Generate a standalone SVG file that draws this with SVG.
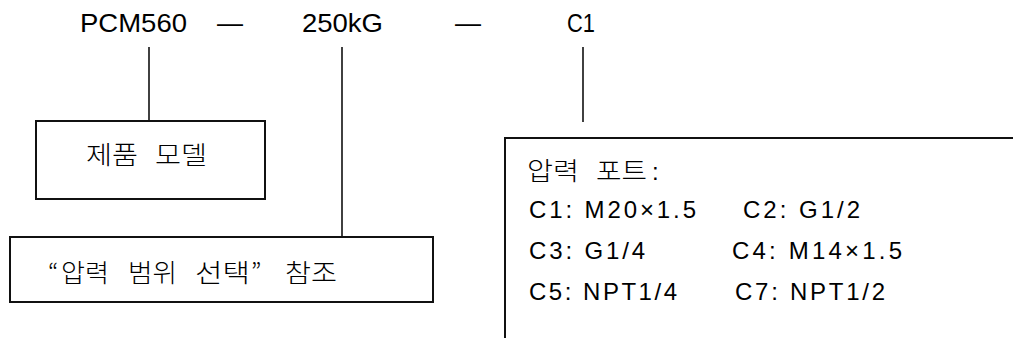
<svg xmlns="http://www.w3.org/2000/svg" width="1013" height="338" viewBox="0 0 1013 338">
<style>
.t{font-family:"Liberation Sans","Noto Sans CJK KR",sans-serif;fill:#000;}
.top{font-size:26px;}
.k{font-size:25px;font-family:"Noto Sans CJK KR","Liberation Sans",sans-serif;font-weight:300;}
.b{font-size:24px;}
.box{fill:#fff;stroke:#111;stroke-width:2;}
.ln{stroke:#111;stroke-width:1.6;fill:none;}
</style>
<rect width="1013" height="338" fill="#fff"/>
<g id="header">
<text class="t top" x="80" y="32" textLength="107" lengthAdjust="spacingAndGlyphs">PCM560</text>
<text class="t top" x="217" y="32" textLength="26" lengthAdjust="spacingAndGlyphs">—</text>
<text class="t top" x="302" y="32" textLength="81" lengthAdjust="spacingAndGlyphs">250kG</text>
<text class="t top" x="455" y="32" textLength="26" lengthAdjust="spacingAndGlyphs">—</text>
<text class="t top" x="567" y="32" textLength="28" lengthAdjust="spacingAndGlyphs">C1</text>
</g>
<g id="connectors">
<line class="ln" x1="149" y1="47" x2="149" y2="121"/>
<line class="ln" x1="342" y1="47" x2="342" y2="237"/>
<line class="ln" x1="583" y1="47" x2="583" y2="122"/>
</g>
<g id="node-model">
<rect class="box" x="36" y="121" width="229" height="78"/>
<text class="t k" x="86" y="164" textLength="52" lengthAdjust="spacingAndGlyphs">제품</text>
<text class="t k" x="155" y="164" textLength="52" lengthAdjust="spacingAndGlyphs">모델</text>
</g>
<g id="node-range">
<rect class="box" x="10" y="237" width="423" height="65"/>
<text class="t k" x="48" y="282">“</text>
<text class="t k" x="61" y="282" textLength="48" lengthAdjust="spacingAndGlyphs">압력</text>
<text class="t k" x="128" y="282" textLength="49" lengthAdjust="spacingAndGlyphs">범위</text>
<text class="t k" x="195" y="282" textLength="55" lengthAdjust="spacingAndGlyphs">선택</text>
<text class="t k" x="251" y="282">”</text>
<text class="t k" x="285" y="282" textLength="52" lengthAdjust="spacingAndGlyphs">참조</text>
</g>
<g id="node-port">
<rect class="box" x="505" y="138" width="600" height="300"/>
<text class="t k" x="527" y="180" textLength="52" lengthAdjust="spacingAndGlyphs">압력</text>
<text class="t k" x="596" y="180" textLength="51" lengthAdjust="spacingAndGlyphs">포트</text>
<text class="t b" x="652" y="180">:</text>
<text class="t b" x="529" y="218" textLength="167" lengthAdjust="spacing">C1: M20×1.5</text>
<text class="t b" x="743" y="218" textLength="117" lengthAdjust="spacing">C2: G1/2</text>
<text class="t b" x="529" y="259" textLength="116" lengthAdjust="spacing">C3: G1/4</text>
<text class="t b" x="732" y="259" textLength="170" lengthAdjust="spacing">C4: M14×1.5</text>
<text class="t b" x="529" y="300" textLength="148" lengthAdjust="spacing">C5: NPT1/4</text>
<text class="t b" x="735" y="300" textLength="150" lengthAdjust="spacing">C7: NPT1/2</text>
</g>
</svg>
